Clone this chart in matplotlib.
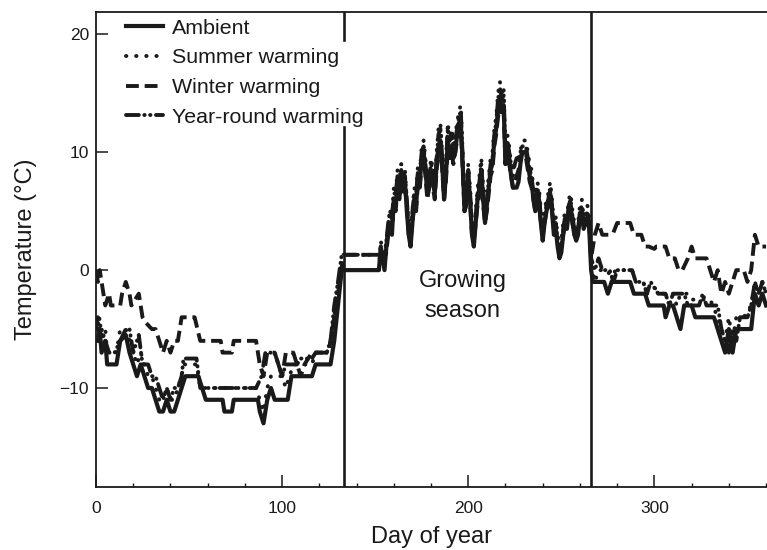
import numpy as np
import matplotlib
matplotlib.use("Agg")
import matplotlib.pyplot as plt
from matplotlib.ticker import MultipleLocator

plt.rcParams['font.family'] = ['Liberation Sans', 'DejaVu Sans']

# daily mean temperature (deg C) by treatment, day of year
# --- winter (before the growing season) ---
amb_w_day = [1, 2, 3, 5, 6, 11, 13, 16, 18, 20, 22, 24, 26, 28, 30, 32, 34, 36, 38, 40,
             42, 44, 46, 48, 55, 57, 59, 68, 69, 73, 74, 87, 88, 90, 92, 94, 96, 103, 105, 116,
             118, 126, 128, 130, 132]
amb_w_temp = [-6, -5, -7, -6, -8, -8, -6, -5.5, -7, -8, -9, -8, -9, -10, -10, -11, -12, -12, -11, -12,
              -12, -11, -10, -9, -9, -10, -11, -11, -12, -12, -11, -11, -12, -13, -11, -10, -11, -11, -9, -9,
              -8, -8, -6, -3, 0]
sum_w_day = [1, 2, 3, 5, 6, 11, 13, 16, 18, 20, 22, 24, 26, 28, 30, 32, 34, 36, 38, 40,
             42, 44, 46, 47, 54, 56, 86, 88, 90, 92, 94, 100, 102, 104, 106, 116, 118, 124, 126, 128,
             130, 132, 134]
sum_w_temp = [-5, -4, -6, -5, -7, -7, -5, -5, -6, -7, -8, -7, -8, -9, -9, -10, -11, -11, -10, -11,
              -11, -10, -9, -8, -8, -10, -10, -11, -12, -10, -9, -9, -10, -9, -8, -8, -7, -7, -6, -4,
              -1, 0.5, 0]
win_w_day = [0, 1, 2, 3, 5, 7, 8, 13, 14, 16, 18, 19, 21, 23, 25, 27, 30, 32, 34, 36,
             38, 40, 42, 44, 46, 53, 56, 67, 68, 73, 74, 86, 88, 90, 92, 96, 98, 100, 102, 106,
             108, 110, 112, 116, 125, 127, 129, 131, 133]
win_w_temp = [0, -1, 0, -1, -3, -2, -3, -3, -2, -1, -2, -3, -2.5, -2, -4, -4.5, -5, -5, -6, -7,
              -6, -7, -6, -6, -4, -4, -6, -6, -7, -7, -6, -6, -8, -9, -7, -7, -8, -9, -7, -7,
              -8, -9, -8, -7, -7, -5, -3, -1, 1.3]
yr_w_day = [0, 1, 2, 3, 5, 7, 10, 13, 16, 18, 20, 23, 25, 28, 30, 32, 34, 36, 38, 40,
            42, 44, 46, 47, 54, 56, 86, 89, 91, 96, 98, 100, 102, 108, 110, 116, 118, 124, 126, 128,
            130, 132]
yr_w_temp = [-5, -4, -6, -5, -6, -7, -7, -6, -5, -5, -7, -5.5, -8, -8, -9, -9, -10, -11, -10, -11,
             -10, -10, -9, -7.5, -7.5, -10, -10, -9, -7, -7, -8, -9, -8, -8, -7.5, -7.5, -7, -7, -6, -3,
             -1, 1.3]

# --- growing season, one value per day from day 152 to 266 ---
gs_day = np.arange(152, 267)
amb_gs = [0, 2, 1, 0, 2, 3.5, 4, 3, 6, 5.5,
          7.5, 6.5, 8, 7, 7.5, 5, 3, 2, 4, 6,
          5.5, 8, 7.5, 9.5, 10, 8.5, 6.5, 7, 8.5, 7.5,
          6.5, 9, 10.5, 11, 9, 6, 8, 11, 10, 10.5,
          9.5, 10, 11.5, 12.5, 12.5, 9, 5, 6, 8, 6,
          3, 2, 4, 6, 7, 8.5, 6, 4, 5.5, 7,
          8.5, 9, 11, 12, 13.5, 14.5, 13.5, 14, 9, 10.5,
          9.5, 8, 7, 7, 7, 7.5, 9, 10, 10, 10,
          9, 8, 7.5, 6, 5, 6.5, 6, 4, 2.5, 4,
          5, 5.5, 6.5, 5, 3, 3.5, 2, 1, 1.5, 3,
          4, 3.5, 5, 5.5, 4, 3, 2.5, 3, 4.5, 5,
          3.5, 4, 4.5, 3.5, 0]
sum_gs = [0, 2.5, 1.5, 0.5, 2.5, 4, 5, 4, 7, 6.5,
          8.5, 7.5, 9, 8, 8.5, 6, 4, 3, 5, 7,
          6.5, 9, 8.5, 10.5, 11, 9.5, 7.5, 8, 9.5, 8.5,
          7.5, 10, 12, 12.5, 10, 7, 9, 12.5, 11, 12,
          11, 11.5, 12.5, 13.5, 14, 10, 6, 7, 9, 7,
          4, 3, 5, 7, 8, 9.5, 7, 5, 6.5, 8,
          9.5, 10, 12, 13, 15, 16, 15, 15.5, 10, 11.5,
          10.5, 9, 8, 9, 9.5, 9.5, 10, 11, 11, 11,
          10, 9, 8.5, 7, 6, 7.5, 7, 5, 3.5, 5,
          6, 6.5, 7.5, 6, 4, 4.5, 3, 2, 2.5, 4,
          5, 4.5, 6, 6.5, 5, 4, 3.5, 4, 5.5, 6,
          4.5, 5, 5.5, 4.5, 0.5]
win_gs = [1.3, 1.3, 1.3, 1, 1.5, 3, 4, 3.5, 5.5, 5,
          7, 6, 7.5, 6.5, 7, 5.5, 3, 2.5, 4, 5.5,
          5, 7.5, 7, 9, 9.5, 8, 6, 7, 8, 7,
          6, 8.5, 10, 10.5, 8.5, 6, 7.5, 10.5, 9.5, 10,
          9, 10, 11, 12, 12, 8.5, 5, 5.5, 7.5, 5.5,
          3, 2.5, 4, 5.5, 6.5, 8, 5.5, 4, 5, 6.5,
          8, 8.5, 10.5, 11.5, 13, 14, 13, 13.5, 9, 10,
          9, 8, 7, 7.5, 8, 8.5, 9.5, 10, 10, 9.5,
          8.5, 7.5, 7, 6, 5, 6, 5.5, 4, 3, 4,
          5, 5.5, 6, 5, 3.5, 3.5, 2.5, 1.5, 2, 3,
          4, 4, 5, 5, 4, 3, 3, 3.5, 4.5, 5,
          4, 4, 4.5, 4, 1]
yr_gs = [1.3, 1.3, 1.3, 1.3, 2.5, 4, 5, 4.5, 6.5, 6.5,
         8, 7.5, 8.5, 8, 8, 6, 3.5, 3, 5, 6.5,
         6.5, 8.5, 8.5, 10, 10.5, 9, 7, 8, 9, 8.5,
         7, 9.5, 11.5, 12, 9.5, 6.5, 9, 12, 11, 11.5,
         10.5, 11, 12, 13, 13.5, 9.5, 5.5, 7, 8.5, 6.5,
         3.5, 3, 4.5, 6.5, 7.5, 9, 6.5, 4.5, 6, 7.5,
         9, 9.5, 11.5, 12.5, 14.5, 15.5, 14.5, 15, 10, 11,
         10, 9, 8.5, 9, 9.5, 9.5, 10, 10.5, 10.5, 10.5,
         9.5, 8.5, 8, 6.5, 5.5, 7, 6.5, 4.5, 3, 4.5,
         5.5, 6, 7, 5.5, 3.5, 4, 2.5, 1.5, 2, 3.5,
         4.5, 4, 5.5, 6, 4.5, 3.5, 3, 3.5, 5, 5.5,
         4, 4.5, 5, 4, 1]

# --- autumn (after the growing season) ---
amb_a_day = [267, 273, 275, 277, 287, 289, 295, 297, 305, 306, 308, 310, 312, 314, 316, 320, 322, 332, 334, 336,
             338, 340, 342, 344, 346, 352, 354, 356, 358, 360]
amb_a_temp = [-1, -1, -2, -1, -1, -2, -2, -3, -3, -4, -3, -3, -4, -5, -3, -3, -4, -4, -5, -6,
              -7, -5, -7, -5, -5, -5, -2, -3, -2, -3]
sum_a_day = [268, 270, 275, 277, 279, 288, 290, 294, 296, 300, 304, 310, 312, 314, 318, 320, 330, 334, 336, 338,
             340, 342, 344, 348, 352, 354, 356, 358, 360]
sum_a_temp = [-1, 0, 0, -1, 0, 0, -1, -1, -2, -1.5, -2, -2, -3, -2, -2, -2.5, -2.5, -4, -5, -6,
              -4, -6, -4, -4, -3, -1, -2, -1, -2]
win_a_day = [268, 270, 272, 276, 278, 280, 287, 289, 293, 295, 297, 300, 301, 306, 308, 311, 313, 315, 318, 320,
             322, 328, 330, 332, 334, 336, 338, 340, 342, 344, 348, 350, 352, 354, 356, 360]
win_a_temp = [3, 4, 3, 3, 3.2, 4, 4, 3, 3, 2, 2, 1.8, 2, 2, 1, 1, 0, 0, 1, 2,
              1, 1, 0, -1, 0, -2, -1, -2, -1, 0, 0, -1, 0, 3, 2, 2]
yr_a_day = [268, 270, 272, 276, 278, 280, 288, 290, 294, 296, 298, 302, 306, 308, 310, 316, 318, 324, 326, 328,
            334, 336, 338, 340, 342, 344, 346, 350, 352, 354, 356, 358, 360]
yr_a_temp = [0, 1, 0, 0, -1, 0, 0, -1, -1, -2, -1, -2, -2, -3, -2, -2, -3, -3, -2, -3,
             -3, -5, -6, -7, -5, -6, -4, -4, -3, -1, -2, -1, -2]

season_bounds = [133, 266]


def join(w_day, w_temp, gs, a_day, a_temp):
    x = np.concatenate([w_day, gs_day, a_day])
    y = np.concatenate([w_temp, gs, a_temp])
    return x, y


amb_x, amb_y = join(amb_w_day, amb_w_temp, amb_gs, amb_a_day, amb_a_temp)
sum_x, sum_y = join(sum_w_day, sum_w_temp, sum_gs, sum_a_day, sum_a_temp)
win_x, win_y = join(win_w_day, win_w_temp, win_gs, win_a_day, win_a_temp)
yr_x, yr_y = join(yr_w_day, yr_w_temp, yr_gs, yr_a_day, yr_a_temp)

ink = '#1a1a1a'
fig = plt.figure(figsize=(7.67, 5.5), dpi=100)
ax = fig.add_axes([96 / 767, 1 - 487 / 550, 671 / 767, 475 / 550])

lw = 2.8
l_win, = ax.plot(win_x, win_y, color=ink, lw=lw, linestyle=(0, (3.3, 1.5)),
                 label='Winter warming')
l_yr, = ax.plot(yr_x, yr_y, color=ink, lw=lw, linestyle=(0, (3.3, 1.4, 0.1, 1.4, 0.1, 1.4)),
                dash_capstyle='round', label='Year-round warming')
l_sum, = ax.plot(sum_x, sum_y, color=ink, lw=lw, linestyle=(0, (0.1, 2.5)),
                 dash_capstyle='round', label='Summer warming')
l_amb, = ax.plot(amb_x, amb_y, color=ink, lw=3.0, label='Ambient')

# growing season boundaries (the first is broken behind the legend)
ax.axvline(season_bounds[0], ymin=0, ymax=0.758, color=ink, lw=1.9)
ax.axvline(season_bounds[0], ymin=0.941, ymax=1, color=ink, lw=1.9)
ax.axvline(season_bounds[1], color=ink, lw=1.9)

ax.text(197, -2.2, 'Growing\nseason', ha='center', va='center', fontsize=17,
        linespacing=1.5, color=ink)

ax.set_xlim(0, 360.5)
ax.set_ylim(-18.4, 21.9)
ax.set_xticks([0, 100, 200, 300])
ax.xaxis.set_minor_locator(MultipleLocator(20))
ax.set_yticks([-10, 0, 10, 20])
ax.tick_params(which='major', direction='in', length=8.6, width=1.1, labelsize=12.5,
               colors=ink)
ax.tick_params(which='minor', direction='in', length=3, width=1.0, colors=ink)
ax.tick_params(axis='x', which='major', pad=10)
ax.tick_params(axis='y', which='major', pad=5)
for side in ['left', 'bottom', 'top']:
    ax.spines[side].set_linewidth(1.3)
    ax.spines[side].set_color(ink)
ax.spines['right'].set_visible(False)

ax.set_xlabel('Day of year', fontsize=17, labelpad=7, color=ink)
ax.set_ylabel('Temperature (°C)', fontsize=17, labelpad=16, color=ink)

leg = ax.legend(handles=[l_amb, l_sum, l_win, l_yr], loc='upper left',
                bbox_to_anchor=(0.025, 1.013), frameon=False, fontsize=15.4,
                handlelength=1.75, handletextpad=0.4, labelspacing=0.5, borderpad=0.1)
for t in leg.get_texts():
    t.set_color(ink)

fig.savefig('out.png', dpi=100)
